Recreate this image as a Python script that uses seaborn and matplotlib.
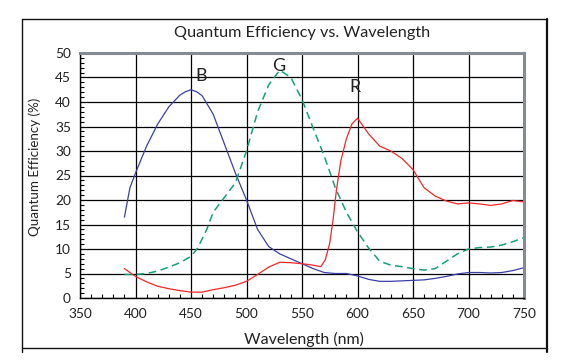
import numpy as np
import pandas as pd
import seaborn as sns
import matplotlib
matplotlib.use("Agg")
import matplotlib.pyplot as plt
from matplotlib.lines import Line2D
from matplotlib.ticker import MultipleLocator

# ---- data ----
wl_b = [390, 395, 400, 410, 420, 430, 440, 445, 450, 455, 460, 470, 480, 490, 500, 510, 520, 530,
        540, 550, 560, 570, 580, 590, 600, 610, 620, 630, 640, 650, 660, 670, 680, 690,
        700, 710, 720, 730, 740, 750]
qe_b = [16.5, 22.5, 25.5, 31, 35.5, 39, 41.4, 42.1, 42.5, 42.1, 41.3, 37.5, 31.5, 25.5, 20, 14, 10.5, 9,
        8, 7, 6, 5.2, 5, 5, 4.5, 3.8, 3.4, 3.4, 3.5, 3.6, 3.7, 4.0, 4.4, 4.9,
        5.2, 5.2, 5.1, 5.2, 5.6, 6.2]

wl_g = [390, 400, 410, 420, 430, 440, 450, 456, 464, 470, 480, 490, 500, 510, 520, 530,
        540, 550, 560, 570, 580, 590, 600, 610, 620, 630, 640, 650, 660, 670, 680, 690,
        700, 710, 720, 730, 740, 750]
qe_g = [4.8, 4.8, 5.0, 5.5, 6.3, 7.2, 8.5, 10.2, 13.9, 17.5, 20.5, 23.5, 30, 38, 43.5, 46.5,
        45, 40.5, 34.7, 29, 22.5, 17.5, 13.5, 10.2, 7.5, 6.7, 6.4, 6.0, 5.7, 6.0, 7.5, 9.0,
        10.0, 10.3, 10.4, 10.8, 11.5, 12.3]

wl_r = [390, 400, 410, 420, 430, 440, 450, 460, 470, 480, 490, 500, 510, 520, 530, 540,
        550, 560, 567, 571, 575, 578, 581, 585, 590, 595, 600, 610, 620, 630, 640, 650,
        660, 670, 680, 690, 700, 710, 720, 730, 740, 750]
qe_r = [6.0, 4.4, 3.3, 2.4, 1.9, 1.5, 1.2, 1.2, 1.7, 2.1, 2.6, 3.4, 4.8, 6.3, 7.3, 7.2,
        7.0, 6.7, 6.4, 7.8, 11.2, 16, 22, 28, 32.5, 35.5, 36.7, 33.5, 31, 30, 28.5, 26.2,
        22.5, 20.8, 19.8, 19.2, 19.4, 19.2, 18.9, 19.2, 19.9, 19.6]

labels = ["B", "G", "R"]
label_x = [459, 529, 598]
label_y = [45.4, 47.4, 43.0]

x_ticks = [350, 400, 450, 500, 550, 600, 650, 700, 750]
y_ticks = [0, 5, 10, 15, 20, 25, 30, 35, 40, 45, 50]

sns.set_style("white")
plt.rcParams["font.family"] = ["Lato", "DejaVu Sans"]

W, H = 572, 364
fig = plt.figure(figsize=(W / 100, H / 100), dpi=100)
ax = fig.add_axes([80 / W, 1 - 298 / H, (524 - 80) / W, (298 - 53) / H])

blue = "#3a3fa6"
green = "#14a07a"
red = "#f02828"
txt = "#222222"

sns.lineplot(x=wl_b, y=qe_b, ax=ax, color=blue, lw=0.9)
sns.lineplot(x=wl_g, y=qe_g, ax=ax, color=green, lw=1.1, linestyle=(0, (5, 3)))
sns.lineplot(x=wl_r, y=qe_r, ax=ax, color=red, lw=0.9)

letter_texts = []
for t, x, y in zip(labels, label_x, label_y):
    letter_texts.append(ax.text(x, y, t, ha="center", va="center", fontsize=12, color=txt))

ax.set_xlim(350, 750)
ax.set_ylim(0, 50)
ax.set_xticks(x_ticks)
ax.set_yticks(y_ticks)
ax.xaxis.set_minor_locator(MultipleLocator(10))
ax.yaxis.set_minor_locator(MultipleLocator(1))
ax.grid(True, which="major", color="black", lw=0.9)
ax.set_axisbelow(True)

ax.tick_params(axis="both", which="major", direction="inout", length=7, width=1,
               color="black", labelsize=10, labelcolor=txt)
ax.tick_params(axis="x", which="major", pad=4)
ax.tick_params(axis="y", which="major", pad=3)
ax.tick_params(axis="both", which="minor", direction="in", length=3, width=0.8,
               color="black", left=True, bottom=True)

for s in ["left", "bottom"]:
    ax.spines[s].set_color("black")
    ax.spines[s].set_linewidth(1.0)
for s in ["top", "right"]:
    ax.spines[s].set_color("#858b92")
    ax.spines[s].set_linewidth(2.2)

def fy(p):
    return 1 - p / H

def fx(p):
    return p / W

title = fig.text(fx(302), fy(33), "Quantum Efficiency vs. Wavelength",
                 ha="center", va="center", fontsize=11, color=txt)
xlab = fig.text(fx(304), fy(339), "Wavelength (nm)",
                ha="center", va="center", fontsize=10.5, color=txt)
ylab = fig.text(fx(35), fy(167), "Quantum Efficiency (%)", rotation=90,
                ha="center", va="center", fontsize=9, color=txt)

# fit text sizes to the reference's measured extents
fig.canvas.draw()
r = fig.canvas.get_renderer()
def fit(t, target, dim):
    for _ in range(3):
        bb = t.get_window_extent(renderer=r)
        cur = bb.width if dim == "w" else bb.height
        t.set_fontsize(t.get_fontsize() * target / cur)
fit(title, 258, "w")
fit(xlab, 120, "w")
fit(ylab, 139, "h")
fit(letter_texts[0], 11.5, "w")
for lt in letter_texts[1:]:
    lt.set_fontsize(letter_texts[0].get_fontsize())

# tick label size so that "350" spans ~24 px
tl = ax.get_xticklabels()[0]
bb = tl.get_window_extent(renderer=r)
ts = 10 * 24 / bb.width
ax.tick_params(axis="both", which="major", labelsize=ts)

# outer frame
fig.add_artist(Line2D([fx(22.3), fx(546.7)], [fy(19.3), fy(19.3)], color="#111111", lw=1.0))
fig.add_artist(Line2D([fx(22.3), fx(22.3)], [fy(19.3), fy(352)], color="#111111", lw=1.0))
fig.add_artist(Line2D([fx(546.7), fx(546.7)], [fy(19.3), fy(352)], color="#111111", lw=1.6))
fig.add_artist(Line2D([fx(22.3), fx(546.7)], [fy(347.7), fy(347.7)], color="#111111", lw=1.0))

fig.savefig("out.png", dpi=100)
